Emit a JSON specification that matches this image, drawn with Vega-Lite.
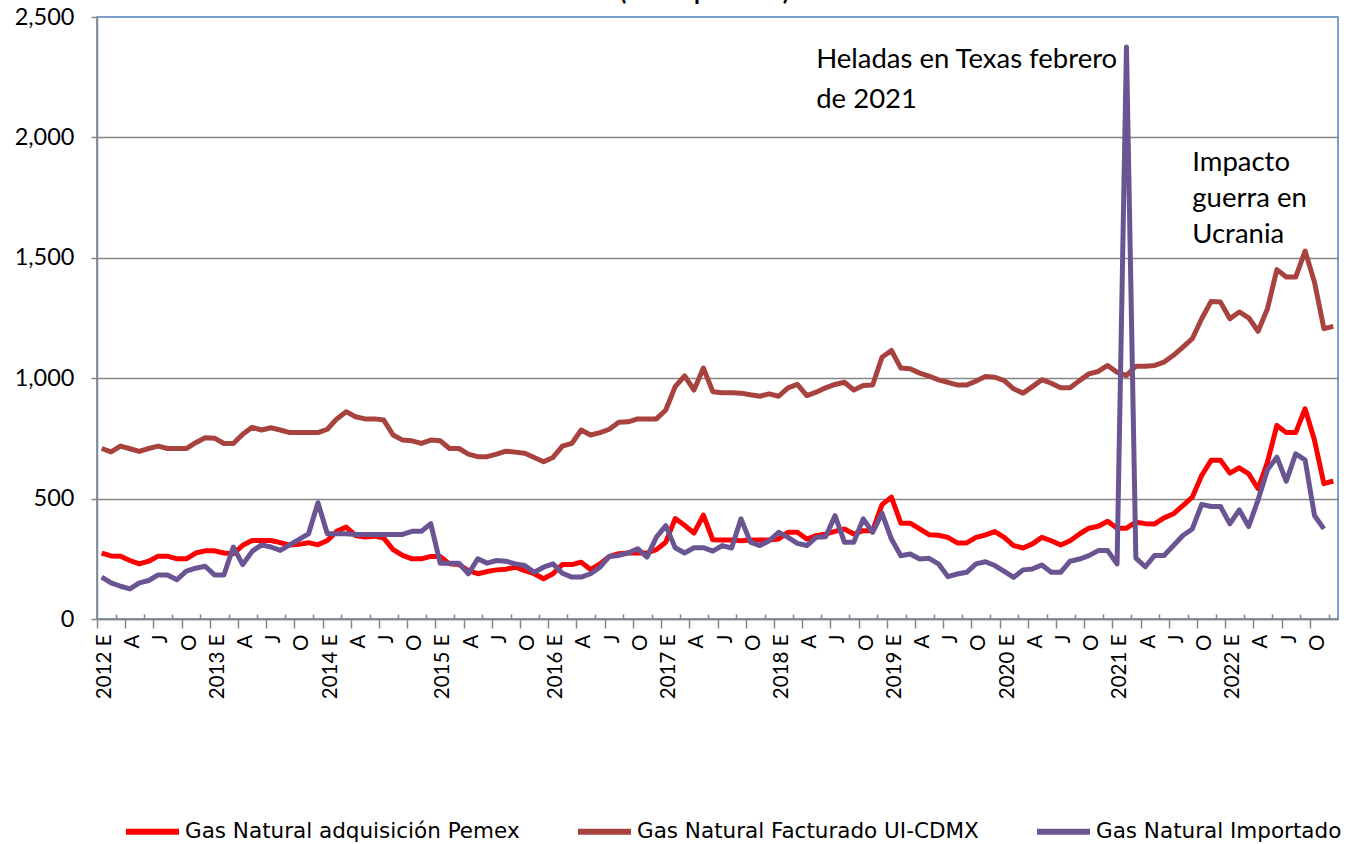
{
  "$schema": "https://vega.github.io/schema/vega-lite/v6.json",
  "width": 1241,
  "height": 602,
  "autosize": {"type": "none"},
  "padding": {"left": 97, "top": 17, "right": 19, "bottom": 225},
  "background": "white",
  "config": {
    "view": {"stroke": "#4F81BD", "strokeWidth": 1.5},
    "font": "Lato"
  },
  "title": {
    "text": "(Pesos por Gcal)",
    "fontSize": 24,
    "fontWeight": "bold",
    "font": "Lato",
    "color": "#000000",
    "offset": 0,
    "dx": -13
  },
  "datasets": {
    "series": [
      {"t":"2012-01","pemex":274,"ui_cdmx":708,"importado":174},
      {"t":"2012-02","pemex":262,"ui_cdmx":694,"importado":150},
      {"t":"2012-03","pemex":261,"ui_cdmx":718,"importado":136},
      {"t":"2012-04","pemex":243,"ui_cdmx":707,"importado":125},
      {"t":"2012-05","pemex":229,"ui_cdmx":696,"importado":150},
      {"t":"2012-06","pemex":240,"ui_cdmx":708,"importado":160},
      {"t":"2012-07","pemex":261,"ui_cdmx":718,"importado":183},
      {"t":"2012-08","pemex":261,"ui_cdmx":708,"importado":183},
      {"t":"2012-09","pemex":250,"ui_cdmx":708,"importado":163},
      {"t":"2012-10","pemex":250,"ui_cdmx":708,"importado":199},
      {"t":"2012-11","pemex":274,"ui_cdmx":732,"importado":211},
      {"t":"2012-12","pemex":283,"ui_cdmx":753,"importado":219},
      {"t":"2013-01","pemex":283,"ui_cdmx":751,"importado":183},
      {"t":"2013-02","pemex":274,"ui_cdmx":729,"importado":183},
      {"t":"2013-03","pemex":271,"ui_cdmx":729,"importado":299},
      {"t":"2013-04","pemex":306,"ui_cdmx":767,"importado":226},
      {"t":"2013-05","pemex":326,"ui_cdmx":796,"importado":281},
      {"t":"2013-06","pemex":326,"ui_cdmx":785,"importado":308},
      {"t":"2013-07","pemex":326,"ui_cdmx":794,"importado":299},
      {"t":"2013-08","pemex":317,"ui_cdmx":785,"importado":285},
      {"t":"2013-09","pemex":307,"ui_cdmx":774,"importado":308},
      {"t":"2013-10","pemex":310,"ui_cdmx":774,"importado":331},
      {"t":"2013-11","pemex":317,"ui_cdmx":774,"importado":354},
      {"t":"2013-12","pemex":308,"ui_cdmx":774,"importado":483},
      {"t":"2014-01","pemex":326,"ui_cdmx":788,"importado":354},
      {"t":"2014-02","pemex":364,"ui_cdmx":831,"importado":354},
      {"t":"2014-03","pemex":382,"ui_cdmx":861,"importado":354},
      {"t":"2014-04","pemex":347,"ui_cdmx":840,"importado":351},
      {"t":"2014-05","pemex":340,"ui_cdmx":831,"importado":351},
      {"t":"2014-06","pemex":344,"ui_cdmx":831,"importado":351},
      {"t":"2014-07","pemex":336,"ui_cdmx":826,"importado":351},
      {"t":"2014-08","pemex":288,"ui_cdmx":764,"importado":351},
      {"t":"2014-09","pemex":264,"ui_cdmx":743,"importado":351},
      {"t":"2014-10","pemex":250,"ui_cdmx":740,"importado":364},
      {"t":"2014-11","pemex":250,"ui_cdmx":729,"importado":364},
      {"t":"2014-12","pemex":260,"ui_cdmx":743,"importado":396},
      {"t":"2015-01","pemex":260,"ui_cdmx":740,"importado":232},
      {"t":"2015-02","pemex":229,"ui_cdmx":708,"importado":232},
      {"t":"2015-03","pemex":226,"ui_cdmx":708,"importado":232},
      {"t":"2015-04","pemex":201,"ui_cdmx":685,"importado":188},
      {"t":"2015-05","pemex":188,"ui_cdmx":674,"importado":250},
      {"t":"2015-06","pemex":197,"ui_cdmx":674,"importado":232},
      {"t":"2015-07","pemex":204,"ui_cdmx":685,"importado":243},
      {"t":"2015-08","pemex":207,"ui_cdmx":697,"importado":240},
      {"t":"2015-09","pemex":215,"ui_cdmx":693,"importado":229},
      {"t":"2015-10","pemex":201,"ui_cdmx":688,"importado":222},
      {"t":"2015-11","pemex":188,"ui_cdmx":671,"importado":194},
      {"t":"2015-12","pemex":167,"ui_cdmx":653,"importado":215},
      {"t":"2016-01","pemex":188,"ui_cdmx":671,"importado":229},
      {"t":"2016-02","pemex":226,"ui_cdmx":718,"importado":190},
      {"t":"2016-03","pemex":226,"ui_cdmx":729,"importado":174},
      {"t":"2016-04","pemex":236,"ui_cdmx":785,"importado":174},
      {"t":"2016-05","pemex":206,"ui_cdmx":764,"importado":188},
      {"t":"2016-06","pemex":229,"ui_cdmx":774,"importado":215},
      {"t":"2016-07","pemex":260,"ui_cdmx":788,"importado":260},
      {"t":"2016-08","pemex":271,"ui_cdmx":817,"importado":264},
      {"t":"2016-09","pemex":274,"ui_cdmx":819,"importado":274},
      {"t":"2016-10","pemex":274,"ui_cdmx":831,"importado":292},
      {"t":"2016-11","pemex":274,"ui_cdmx":831,"importado":257},
      {"t":"2016-12","pemex":288,"ui_cdmx":831,"importado":340},
      {"t":"2017-01","pemex":319,"ui_cdmx":868,"importado":388},
      {"t":"2017-02","pemex":417,"ui_cdmx":965,"importado":296},
      {"t":"2017-03","pemex":389,"ui_cdmx":1010,"importado":274},
      {"t":"2017-04","pemex":357,"ui_cdmx":951,"importado":296},
      {"t":"2017-05","pemex":431,"ui_cdmx":1042,"importado":296},
      {"t":"2017-06","pemex":329,"ui_cdmx":944,"importado":282},
      {"t":"2017-07","pemex":328,"ui_cdmx":940,"importado":305},
      {"t":"2017-08","pemex":328,"ui_cdmx":940,"importado":295},
      {"t":"2017-09","pemex":325,"ui_cdmx":938,"importado":416},
      {"t":"2017-10","pemex":328,"ui_cdmx":931,"importado":319},
      {"t":"2017-11","pemex":328,"ui_cdmx":925,"importado":305},
      {"t":"2017-12","pemex":328,"ui_cdmx":935,"importado":325},
      {"t":"2018-01","pemex":332,"ui_cdmx":925,"importado":360},
      {"t":"2018-02","pemex":360,"ui_cdmx":960,"importado":339},
      {"t":"2018-03","pemex":360,"ui_cdmx":974,"importado":314},
      {"t":"2018-04","pemex":332,"ui_cdmx":928,"importado":305},
      {"t":"2018-05","pemex":346,"ui_cdmx":942,"importado":339},
      {"t":"2018-06","pemex":353,"ui_cdmx":960,"importado":342},
      {"t":"2018-07","pemex":364,"ui_cdmx":974,"importado":429},
      {"t":"2018-08","pemex":374,"ui_cdmx":983,"importado":319},
      {"t":"2018-09","pemex":353,"ui_cdmx":951,"importado":319},
      {"t":"2018-10","pemex":367,"ui_cdmx":970,"importado":416},
      {"t":"2018-11","pemex":367,"ui_cdmx":972,"importado":360},
      {"t":"2018-12","pemex":475,"ui_cdmx":1087,"importado":439},
      {"t":"2019-01","pemex":506,"ui_cdmx":1115,"importado":332},
      {"t":"2019-02","pemex":398,"ui_cdmx":1042,"importado":263},
      {"t":"2019-03","pemex":398,"ui_cdmx":1039,"importado":270},
      {"t":"2019-04","pemex":374,"ui_cdmx":1021,"importado":249},
      {"t":"2019-05","pemex":350,"ui_cdmx":1009,"importado":252},
      {"t":"2019-06","pemex":348,"ui_cdmx":993,"importado":229},
      {"t":"2019-07","pemex":339,"ui_cdmx":983,"importado":176},
      {"t":"2019-08","pemex":316,"ui_cdmx":972,"importado":187},
      {"t":"2019-09","pemex":316,"ui_cdmx":972,"importado":194},
      {"t":"2019-10","pemex":339,"ui_cdmx":988,"importado":229},
      {"t":"2019-11","pemex":349,"ui_cdmx":1007,"importado":238},
      {"t":"2019-12","pemex":363,"ui_cdmx":1004,"importado":222},
      {"t":"2020-01","pemex":339,"ui_cdmx":990,"importado":198},
      {"t":"2020-02","pemex":305,"ui_cdmx":956,"importado":173},
      {"t":"2020-03","pemex":295,"ui_cdmx":938,"importado":204},
      {"t":"2020-04","pemex":312,"ui_cdmx":965,"importado":208},
      {"t":"2020-05","pemex":339,"ui_cdmx":994,"importado":224},
      {"t":"2020-06","pemex":325,"ui_cdmx":979,"importado":194},
      {"t":"2020-07","pemex":307,"ui_cdmx":960,"importado":194},
      {"t":"2020-08","pemex":325,"ui_cdmx":960,"importado":240},
      {"t":"2020-09","pemex":353,"ui_cdmx":990,"importado":249},
      {"t":"2020-10","pemex":377,"ui_cdmx":1018,"importado":263},
      {"t":"2020-11","pemex":385,"ui_cdmx":1028,"importado":284},
      {"t":"2020-12","pemex":406,"ui_cdmx":1053,"importado":284},
      {"t":"2021-01","pemex":377,"ui_cdmx":1025,"importado":229},
      {"t":"2021-02","pemex":377,"ui_cdmx":1011,"importado":2375},
      {"t":"2021-03","pemex":402,"ui_cdmx":1050,"importado":253},
      {"t":"2021-04","pemex":396,"ui_cdmx":1050,"importado":217},
      {"t":"2021-05","pemex":395,"ui_cdmx":1053,"importado":264},
      {"t":"2021-06","pemex":420,"ui_cdmx":1067,"importado":264},
      {"t":"2021-07","pemex":437,"ui_cdmx":1095,"importado":305},
      {"t":"2021-08","pemex":471,"ui_cdmx":1129,"importado":347},
      {"t":"2021-09","pemex":506,"ui_cdmx":1164,"importado":374},
      {"t":"2021-10","pemex":596,"ui_cdmx":1247,"importado":476},
      {"t":"2021-11","pemex":659,"ui_cdmx":1319,"importado":467},
      {"t":"2021-12","pemex":659,"ui_cdmx":1316,"importado":467},
      {"t":"2022-01","pemex":606,"ui_cdmx":1247,"importado":395},
      {"t":"2022-02","pemex":628,"ui_cdmx":1275,"importado":453},
      {"t":"2022-03","pemex":603,"ui_cdmx":1251,"importado":384},
      {"t":"2022-04","pemex":541,"ui_cdmx":1195,"importado":495},
      {"t":"2022-05","pemex":652,"ui_cdmx":1289,"importado":620},
      {"t":"2022-06","pemex":804,"ui_cdmx":1451,"importado":672},
      {"t":"2022-07","pemex":774,"ui_cdmx":1420,"importado":572},
      {"t":"2022-08","pemex":774,"ui_cdmx":1420,"importado":686},
      {"t":"2022-09","pemex":873,"ui_cdmx":1528,"importado":661},
      {"t":"2022-10","pemex":742,"ui_cdmx":1399,"importado":430},
      {"t":"2022-11","pemex":562,"ui_cdmx":1206,"importado":374},
      {"t":"2022-12","pemex":573,"ui_cdmx":1215}
    ],
    "notes": [
      {"t":"2018-05","v":2321,"txt":"Heladas en Texas febrero"},
      {"t":"2018-05","v":2155,"txt":"de 2021"},
      {"t":"2021-09","v":1893,"txt":"Impacto"},
      {"t":"2021-09","v":1744,"txt":"guerra en"},
      {"t":"2021-09","v":1595,"txt":"Ucrania"}
    ]
  },
  "encoding": {
    "x": {
      "field": "t",
      "type": "ordinal",
      "scale": {"type": "point", "padding": 0.5},
      "axis": {
        "title": null,
        "values": ["2012-01","2012-03","2012-04","2012-06","2012-07","2012-09","2012-10","2012-12","2013-01","2013-03","2013-04","2013-06","2013-07","2013-09","2013-10","2013-12","2014-01","2014-03","2014-04","2014-06","2014-07","2014-09","2014-10","2014-12","2015-01","2015-03","2015-04","2015-06","2015-07","2015-09","2015-10","2015-12","2016-01","2016-03","2016-04","2016-06","2016-07","2016-09","2016-10","2016-12","2017-01","2017-03","2017-04","2017-06","2017-07","2017-09","2017-10","2017-12","2018-01","2018-03","2018-04","2018-06","2018-07","2018-09","2018-10","2018-12","2019-01","2019-03","2019-04","2019-06","2019-07","2019-09","2019-10","2019-12","2020-01","2020-03","2020-04","2020-06","2020-07","2020-09","2020-10","2020-12","2021-01","2021-03","2021-04","2021-06","2021-07","2021-09","2021-10","2021-12","2022-01","2022-03","2022-04","2022-06","2022-07","2022-09","2022-10","2022-12"],
        "labelExpr": "substring(datum.value,5,7)=='01' ? substring(datum.value,0,4)+' E' : (substring(datum.value,5,7)=='04' ? 'A' : (substring(datum.value,5,7)=='07' ? 'J' : (substring(datum.value,5,7)=='10' ? 'O' : '')))",
        "labelAngle": 270,
        "labelFont": "Lato",
        "labelFontSize": 20.5,
        "labelColor": "#000000",
        "labelPadding": 6,
        "labelOverlap": false,
        "tickOffset": -4.7,
        "labelOffset": 7.5,
        "tickSize": {"condition": {"test": "indexof(['03','06','09','12'], substring(datum.value,5,7)) >= 0", "value": -5}, "value": 9},
        "tickColor": "#868686",
        "tickWidth": 1.5,
        "domainColor": "#868686",
        "domainWidth": 1.5,
        "grid": false
      }
    },
    "y": {
      "type": "quantitative",
      "scale": {"domain": [0, 2500], "nice": false, "zero": true},
      "axis": {
        "title": null,
        "values": [0, 500, 1000, 1500, 2000, 2500],
        "format": ",.0f",
        "labelFont": "Lato",
        "labelFontSize": 23.5,
        "labelColor": "#000000",
        "labelPadding": 17,
        "tickSize": 6,
        "tickColor": "#868686",
        "tickWidth": 1.5,
        "domainColor": "#868686",
        "domainWidth": 1.5,
        "grid": true,
        "gridColor": "#868686",
        "gridWidth": 1.5,
        "gridOpacity": {"condition": {"test": "datum.value >= 2500", "value": 0}, "value": 1}
      }
    }
  },
  "layer": [
    {
      "data": {"name": "series"},
      "transform": [
        {"fold": ["pemex", "ui_cdmx", "importado"], "as": ["serie", "valor"]}
      ],
      "mark": {"type": "line", "strokeWidth": 5, "strokeJoin": "round"},
      "encoding": {
        "y": {"field": "valor"},
        "color": {
          "field": "serie",
          "type": "nominal",
          "scale": {"domain": ["pemex", "ui_cdmx", "importado"], "range": ["#FF0000", "#A8423F", "#6A5592"]},
          "legend": {
            "title": null,
            "orient": "none",
            "direction": "horizontal",
            "legendX": 26,
            "legendY": 785,
            "labelExpr": "datum.value=='pemex' ? 'Gas Natural adquisición Pemex' : (datum.value=='ui_cdmx' ? 'Gas Natural Facturado UI-CDMX' : 'Gas Natural Importado')",
            "symbolType": "stroke",
            "symbolStrokeWidth": 6,
            "symbolSize": 2809,
            "labelFont": "DejaVu Sans",
            "labelFontSize": 21.5,
            "labelColor": "#000000",
            "labelOffset": 3,
            "columnPadding": 46,
            "labelLimit": 500
          }
        }
      }
    },
    {
      "data": {"name": "notes"},
      "mark": {"type": "text", "align": "left", "baseline": "middle", "font": "Lato", "fontSize": 27.5, "color": "#000000"},
      "encoding": {
        "y": {"field": "v"},
        "text": {"field": "txt"}
      }
    }
  ]
}
